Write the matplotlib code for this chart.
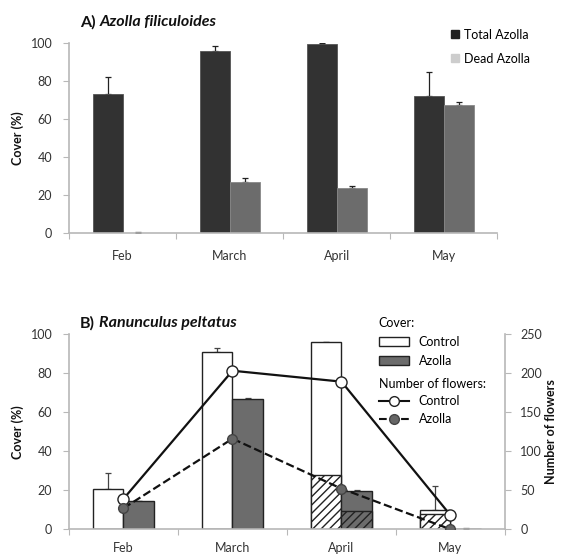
import matplotlib.pyplot as plt
import numpy as np
from matplotlib.patches import Patch
from matplotlib.lines import Line2D

plt.rcParams['font.family'] = ['Lato', 'DejaVu Sans']
plt.rcParams['hatch.linewidth'] = 1.0

months = ['Feb', 'March', 'April', 'May']

# A) Azolla filiculoides cover (%)
total_azolla = [73, 96, 99.5, 72]
total_azolla_err = [9, 2.5, 0.5, 13]
dead_azolla = [0.3, 27, 24, 67.5]
dead_azolla_err = [0.5, 2, 1, 1.5]

# B) Ranunculus peltatus cover (%)
ctrl_cover = [20.5, 91, 96, 10]
ctrl_cover_err = [8.5, 2, 0, 12]
azolla_cover = [14.5, 66.5, 19.5, 0.3]
azolla_cover_err = [0, 0.7, 0.7, 0.5]
# part of the cover that was flowering (hatched)
ctrl_flowering = [0, 0, 28, 8]
azolla_flowering = [0, 0, 9.5, 0]

# number of flowers (right axis)
ctrl_flowers = [39, 203, 189, 18]
azolla_flowers = [27, 116, 52, 0]

DARK = '#323232'
GREY = '#6c6c6c'
AXC = '#b8b8b8'
TXT = '#333333'

fig = plt.figure(figsize=(5.66, 5.54), dpi=100)
x = np.arange(len(months)) + 0.5
w = 0.28


def style_axis(ax, ncat):
    ax.set_xlim(0, ncat)
    ax.set_xticks(np.arange(ncat + 1))
    ax.set_xticklabels([])
    ax.set_xticks(x, minor=True)
    ax.set_xticklabels(months, minor=True, fontsize=9, color=TXT)
    ax.tick_params(axis='x', which='major', direction='out', length=4, color=AXC)
    ax.tick_params(axis='x', which='minor', length=0, pad=12)
    ax.tick_params(axis='y', direction='out', length=4, color=AXC, labelsize=9,
                   labelcolor=TXT, pad=8)
    for s in ['top', 'right']:
        ax.spines[s].set_visible(False)
    for s in ['left', 'bottom']:
        ax.spines[s].set_color(AXC)
        ax.spines[s].set_linewidth(1.2)


def title(ax, prefix, name, y):
    t = fig.text(0.141, y, prefix, fontsize=11.5, fontweight='bold', color='#111', va='center')
    ax.annotate(name, xy=(1, 0.5), xycoords=t, xytext=(3, 0), textcoords='offset points',
                fontsize=11.5, fontweight='bold', style='italic', color='#111', va='center')


# ---- panel A ----
axA = fig.add_axes([0.1219, 0.5789, 0.7567, 0.3435])
axA.bar(x - w / 2, total_azolla, w, color=DARK, edgecolor='#555', linewidth=0.6, zorder=2)
axA.bar(x + w / 2, dead_azolla, w, color=GREY, edgecolor='#888', linewidth=0.6, zorder=2)
axA.errorbar(x - w / 2, total_azolla, yerr=[np.zeros(4), total_azolla_err], fmt='none',
             ecolor='#222', elinewidth=0.9, capsize=2.5, capthick=0.9, zorder=1)
axA.errorbar(x + w / 2, dead_azolla, yerr=[np.zeros(4), dead_azolla_err], fmt='none',
             ecolor='#222', elinewidth=0.9, capsize=2.5, capthick=0.9, zorder=1)
axA.set_ylim(0, 100)
axA.set_yticks(range(0, 101, 20))
style_axis(axA, 4)
axA.set_ylabel('Cover (%)', fontsize=9, fontweight='bold', color='#111', labelpad=5)
title(axA, 'A)', 'Azolla filiculoides', 0.960)
axA.legend(handles=[Line2D([], [], marker='s', ls='none', color='#222', markersize=6),
                    Line2D([], [], marker='s', ls='none', color='#cdcdcd', markersize=6)],
           labels=['Total Azolla', 'Dead Azolla'], frameon=False, fontsize=9,
           loc='upper left', bbox_to_anchor=(0.797, 0.948), bbox_transform=fig.transFigure,
           handlelength=0.6, handletextpad=0.4, labelspacing=0.95, borderpad=0,
           borderaxespad=0)

# ---- panel B ----
axB = fig.add_axes([0.1219, 0.0446, 0.7703, 0.3525])
axB.bar(x - w / 2, ctrl_cover, w, color='white', edgecolor='#222', linewidth=1.0, zorder=2)
axB.bar(x - w / 2, ctrl_flowering, w, color='white', edgecolor='#222', linewidth=1.0,
        hatch='////', zorder=2)
axB.bar(x + w / 2, azolla_cover, w, color=GREY, edgecolor='#222', linewidth=1.0, zorder=2)
axB.bar(x + w / 2, azolla_flowering, w, color=GREY, edgecolor='#222', linewidth=1.0,
        hatch='////', zorder=2)
axB.errorbar(x - w / 2, ctrl_cover, yerr=[np.zeros(4), ctrl_cover_err], fmt='none',
             ecolor='#444', elinewidth=0.9, capsize=2.5, capthick=0.9, zorder=1)
axB.errorbar(x + w / 2, azolla_cover, yerr=[np.zeros(4), azolla_cover_err], fmt='none',
             ecolor='#444', elinewidth=0.9, capsize=2.5, capthick=0.9, zorder=1)
axB.set_ylim(0, 100)
axB.set_yticks(range(0, 101, 20))
style_axis(axB, 4)
axB.tick_params(axis='x', which='minor', pad=9)
axB.set_ylabel('Cover (%)', fontsize=9, fontweight='bold', color='#111', labelpad=5)
title(axB, 'B)', 'Ranunculus peltatus', 0.417)

axR = axB.twinx()
axR.plot(x, ctrl_flowers, '-', color='#111', lw=1.6, marker='o', markersize=8,
         markerfacecolor='white', markeredgecolor='#222', markeredgewidth=1.0, zorder=4)
axR.plot(x, azolla_flowers, '--', color='#111', lw=1.6, marker='o', markersize=7,
         markerfacecolor='#666', markeredgecolor='#444', markeredgewidth=1.0, zorder=4)
axR.set_ylim(0, 250)
axR.set_yticks(range(0, 251, 50))
axR.set_xlim(0, 4)
for s in ['top', 'left', 'bottom']:
    axR.spines[s].set_visible(False)
axR.spines['right'].set_color(AXC)
axR.spines['right'].set_linewidth(1.2)
axR.tick_params(axis='y', direction='out', length=4, color=AXC, labelsize=9,
                labelcolor=TXT, pad=7)
axR.set_ylabel('Number of flowers', fontsize=9, fontweight='bold', color='#111', labelpad=2)

# cover legend sits on the bar axes, flower legend on the twin axes
axB.legend(handles=[Patch(facecolor='white', edgecolor='#222'),
                    Patch(facecolor=GREY, edgecolor='#222')],
           labels=['Control', 'Azolla'], title='Cover:', alignment='left',
           frameon=False, fontsize=9, title_fontsize=9, loc='upper left',
           bbox_to_anchor=(0.669, 0.428), bbox_transform=fig.transFigure,
           handlelength=2.4, handleheight=0.8, handletextpad=0.8,
           labelspacing=0.55, borderpad=0, borderaxespad=0)
axR.legend(handles=[Line2D([], [], ls='-', color='#111', marker='o', markersize=7,
                           markerfacecolor='white', markeredgecolor='#222'),
                    Line2D([], [], ls='--', color='#111', marker='o', markersize=7,
                           markerfacecolor='#666', markeredgecolor='#444')],
           labels=['Control', 'Azolla'], title='Number of flowers:', alignment='left',
           frameon=False, fontsize=9, title_fontsize=9, loc='upper left',
           bbox_to_anchor=(0.669, 0.318), bbox_transform=fig.transFigure,
           handlelength=2.4, handletextpad=0.8, labelspacing=0.45,
           borderpad=0, borderaxespad=0)

fig.savefig('out.png', dpi=100)
